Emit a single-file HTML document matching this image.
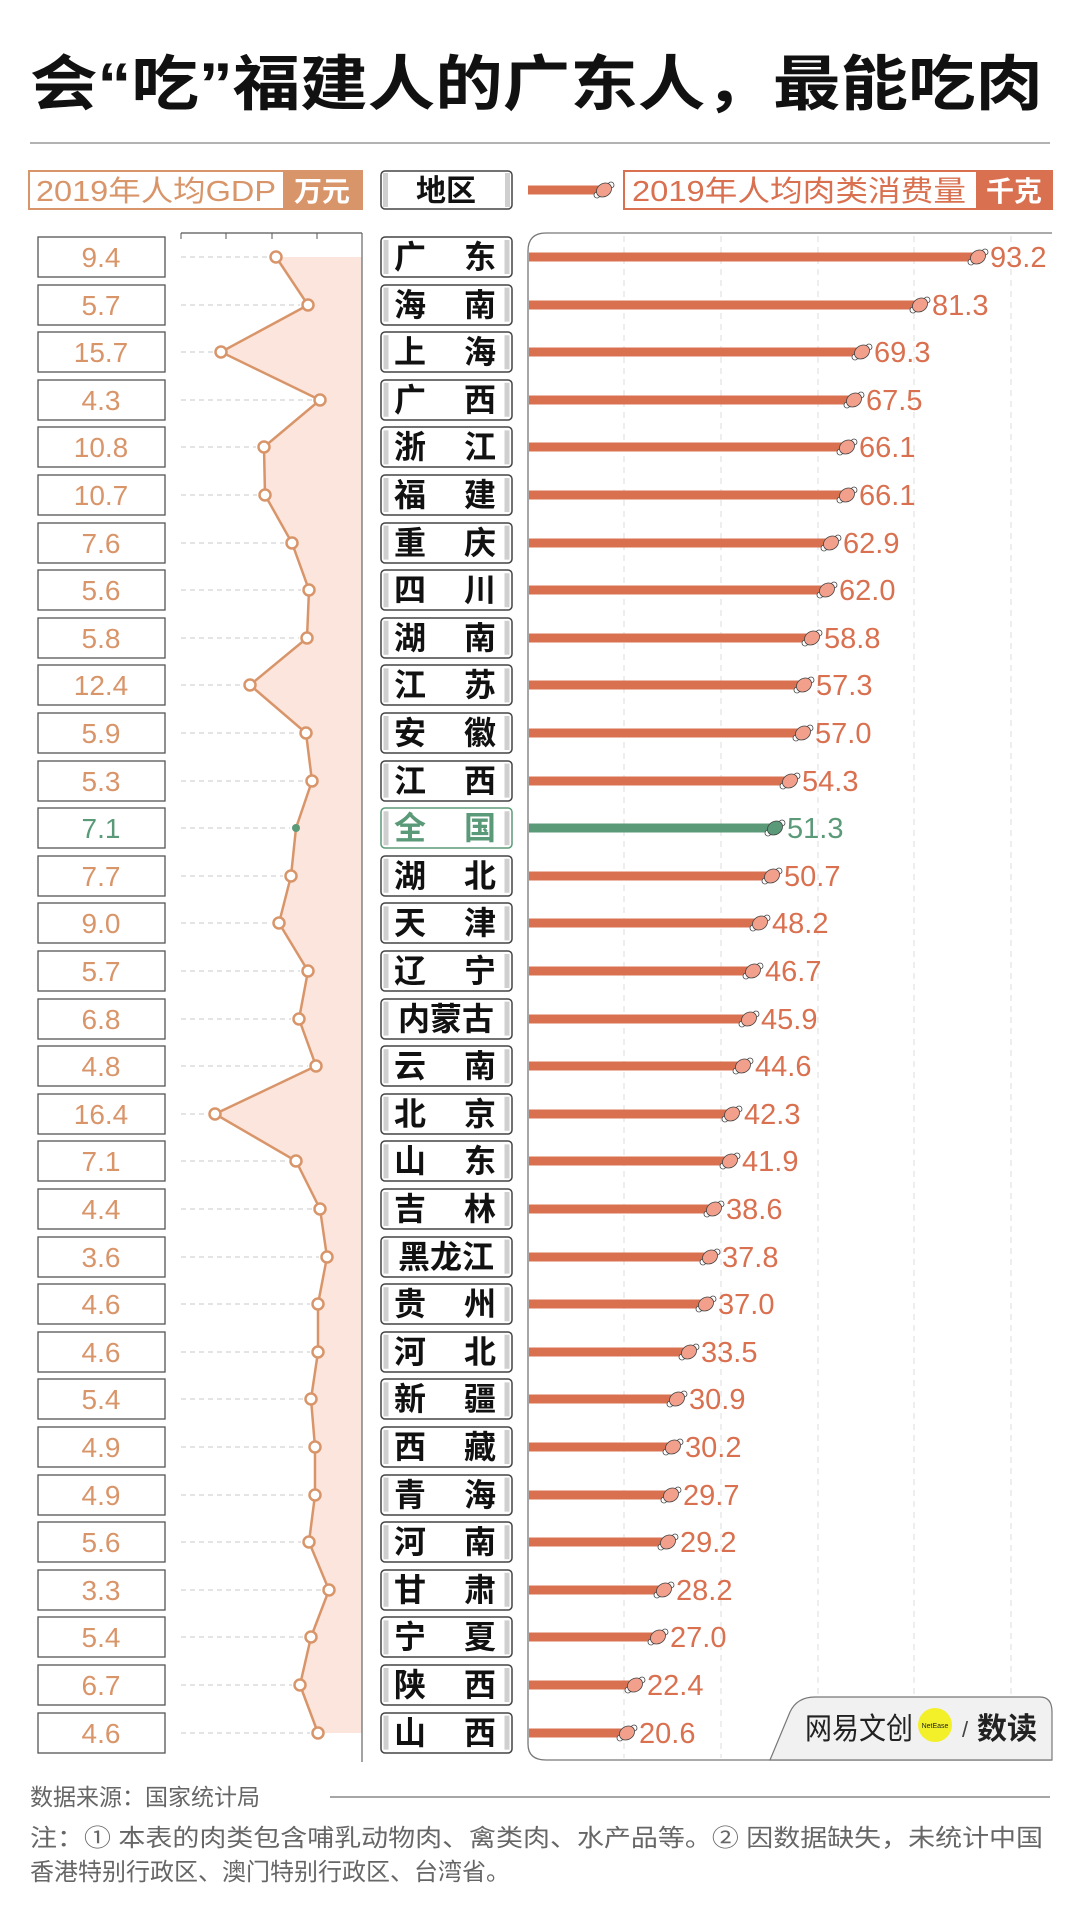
<!DOCTYPE html>
<html><head><meta charset="utf-8"><style>
html,body{margin:0;padding:0;background:#fff;}
svg{display:block;font-family:"Liberation Sans","Noto Sans CJK SC",sans-serif;}
.vb{fill:#fff;stroke:#555;stroke-width:1.3}
.vt{fill:#d9956a;font-size:28px;text-anchor:middle}
.rb{fill:#fff;stroke:#444;stroke-width:1.5}
.rc{fill:#cfcfcf}
.rt{fill:#111;font-size:32px;font-weight:bold;text-anchor:middle}
.dl{stroke:#c8c8c8;stroke-width:1;stroke-dasharray:5 4}
.gp{fill:#fff;stroke:#d9956a;stroke-width:2.5}
.bar{stroke:#d9704f;stroke-width:9}
.mt{fill:#d9704f;font-size:29px}
.gl{stroke:#ddd;stroke-width:1;stroke-dasharray:6 5}
</style></head><body>
<svg width="1080" height="1905" viewBox="0 0 1080 1905" xmlns="http://www.w3.org/2000/svg">
<defs>
<g id="m"><circle cx="-7" cy="5" r="3" fill="#fff" stroke="#444" stroke-width="0.8"/><circle cx="7" cy="-5" r="3" fill="#fff" stroke="#444" stroke-width="0.8"/><ellipse cx="0" cy="0" rx="8" ry="6.5" transform="rotate(-35)" fill="#f2a08c" stroke="#444" stroke-width="0.8"/></g>
<g id="mg"><circle cx="-7" cy="5" r="3" fill="#fff" stroke="#444" stroke-width="0.8"/><circle cx="7" cy="-5" r="3" fill="#fff" stroke="#444" stroke-width="0.8"/><ellipse cx="0" cy="0" rx="8" ry="6.5" transform="rotate(-35)" fill="#5b9a78" stroke="#444" stroke-width="0.8"/></g>
</defs>
<text x="30" y="105" font-size="60" font-weight="bold" fill="#111" textLength="1013" lengthAdjust="spacingAndGlyphs">会“吃”福建人的广东人，最能吃肉</text>
<line x1="30" y1="143" x2="1050" y2="143" stroke="#999" stroke-width="1.5"/>

<!-- headers -->
<rect x="29" y="171" width="333" height="38" fill="#fff" stroke="#d9956a" stroke-width="2"/>
<rect x="283" y="171" width="79" height="38" fill="#d9956a"/>
<text x="36" y="201" font-size="29" fill="#d9956a" textLength="240" lengthAdjust="spacingAndGlyphs">2019年人均GDP</text>
<text x="322" y="201" font-size="28" fill="#fff" font-weight="bold" text-anchor="middle">万元</text>
<rect x="381" y="171" width="131" height="38" rx="4" class="rb"/><rect x="383" y="173" width="5" height="34" class="rc"/><rect x="505" y="173" width="5" height="34" class="rc"/>
<text x="446" y="201" font-size="30" font-weight="bold" fill="#111" text-anchor="middle">地区</text>
<line x1="528" y1="190" x2="600" y2="190" stroke="#d9704f" stroke-width="9"/>
<use href="#m" x="604" y="190"/>
<rect x="624" y="171" width="428" height="38" fill="#fff" stroke="#d9704f" stroke-width="2"/>
<rect x="976" y="171" width="76" height="38" fill="#d9704f"/>
<text x="632" y="201" font-size="29" fill="#d9704f" textLength="334" lengthAdjust="spacingAndGlyphs">2019年人均肉类消费量</text>
<text x="1014" y="201" font-size="28" fill="#fff" font-weight="bold" text-anchor="middle">千克</text>

<!-- GDP chart frame -->
<polygon fill="#fce5dc" points="362,257 276,257 308,305 221,352 320,400 264,447 265,495 292,543 309,590 307,638 250,685 306,733 312,781 296,828 291,876 279,923 308,971 299,1019 316,1066 215,1114 296,1161 320,1209 327,1257 318,1304 318,1352 311,1399 315,1447 315,1495 309,1542 329,1590 311,1637 300,1685 318,1733 362,1733"/>
<line x1="181" y1="233" x2="362" y2="233" stroke="#555" stroke-width="1.2"/>
<line x1="181" y1="233" x2="181" y2="239" stroke="#555"/><line x1="226" y1="233" x2="226" y2="239" stroke="#555"/><line x1="272" y1="233" x2="272" y2="239" stroke="#555"/><line x1="317" y1="233" x2="317" y2="239" stroke="#555"/>
<line x1="362" y1="233" x2="362" y2="1762" stroke="#666" stroke-width="1.2"/>
<g class="dl">
<line x1="181" y1="257" x2="268" y2="257"/><line x1="181" y1="305" x2="300" y2="305"/><line x1="181" y1="352" x2="213" y2="352"/><line x1="181" y1="400" x2="312" y2="400"/><line x1="181" y1="447" x2="256" y2="447"/><line x1="181" y1="495" x2="257" y2="495"/><line x1="181" y1="543" x2="284" y2="543"/><line x1="181" y1="590" x2="301" y2="590"/><line x1="181" y1="638" x2="299" y2="638"/><line x1="181" y1="685" x2="242" y2="685"/><line x1="181" y1="733" x2="298" y2="733"/><line x1="181" y1="781" x2="304" y2="781"/><line x1="181" y1="828" x2="290" y2="828"/><line x1="181" y1="876" x2="283" y2="876"/><line x1="181" y1="923" x2="271" y2="923"/><line x1="181" y1="971" x2="300" y2="971"/><line x1="181" y1="1019" x2="291" y2="1019"/><line x1="181" y1="1066" x2="308" y2="1066"/><line x1="181" y1="1114" x2="207" y2="1114"/><line x1="181" y1="1161" x2="288" y2="1161"/><line x1="181" y1="1209" x2="312" y2="1209"/><line x1="181" y1="1257" x2="319" y2="1257"/><line x1="181" y1="1304" x2="310" y2="1304"/><line x1="181" y1="1352" x2="310" y2="1352"/><line x1="181" y1="1399" x2="303" y2="1399"/><line x1="181" y1="1447" x2="307" y2="1447"/><line x1="181" y1="1495" x2="307" y2="1495"/><line x1="181" y1="1542" x2="301" y2="1542"/><line x1="181" y1="1590" x2="321" y2="1590"/><line x1="181" y1="1637" x2="303" y2="1637"/><line x1="181" y1="1685" x2="292" y2="1685"/><line x1="181" y1="1733" x2="310" y2="1733"/>
</g>
<polyline fill="none" stroke="#d9956a" stroke-width="2.5" points="276,257 308,305 221,352 320,400 264,447 265,495 292,543 309,590 307,638 250,685 306,733 312,781 296,828 291,876 279,923 308,971 299,1019 316,1066 215,1114 296,1161 320,1209 327,1257 318,1304 318,1352 311,1399 315,1447 315,1495 309,1542 329,1590 311,1637 300,1685 318,1733"/>
<g class="gp">
<circle cx="276" cy="257" r="5.5"/><circle cx="308" cy="305" r="5.5"/><circle cx="221" cy="352" r="5.5"/><circle cx="320" cy="400" r="5.5"/><circle cx="264" cy="447" r="5.5"/><circle cx="265" cy="495" r="5.5"/><circle cx="292" cy="543" r="5.5"/><circle cx="309" cy="590" r="5.5"/><circle cx="307" cy="638" r="5.5"/><circle cx="250" cy="685" r="5.5"/><circle cx="306" cy="733" r="5.5"/><circle cx="312" cy="781" r="5.5"/><circle cx="291" cy="876" r="5.5"/><circle cx="279" cy="923" r="5.5"/><circle cx="308" cy="971" r="5.5"/><circle cx="299" cy="1019" r="5.5"/><circle cx="316" cy="1066" r="5.5"/><circle cx="215" cy="1114" r="5.5"/><circle cx="296" cy="1161" r="5.5"/><circle cx="320" cy="1209" r="5.5"/><circle cx="327" cy="1257" r="5.5"/><circle cx="318" cy="1304" r="5.5"/><circle cx="318" cy="1352" r="5.5"/><circle cx="311" cy="1399" r="5.5"/><circle cx="315" cy="1447" r="5.5"/><circle cx="315" cy="1495" r="5.5"/><circle cx="309" cy="1542" r="5.5"/><circle cx="329" cy="1590" r="5.5"/><circle cx="311" cy="1637" r="5.5"/><circle cx="300" cy="1685" r="5.5"/><circle cx="318" cy="1733" r="5.5"/>
</g>
<circle cx="296" cy="828" r="4" fill="#5b9a78"/>

<!-- right panel -->
<path d="M1052,233 L546,233 Q528,233 528,251 L528,1744 Q528,1760 546,1760 L1052,1760" fill="none" stroke="#777" stroke-width="1.3"/>
<g class="gl"><line x1="624" y1="236" x2="624" y2="1758"/><line x1="721" y1="236" x2="721" y2="1758"/><line x1="818" y1="236" x2="818" y2="1758"/><line x1="914" y1="236" x2="914" y2="1758"/><line x1="1011" y1="236" x2="1011" y2="1758"/></g>
<path d="M770,1760 L790,1712 Q797,1697 815,1697 L1040,1697 Q1052,1697 1052,1712 L1052,1760 Z" fill="#f1f1f1" stroke="#777" stroke-width="1.2"/>
<circle cx="935" cy="1725" r="17" fill="#f3f029"/>
<text x="805" y="1739" font-size="30" fill="#222" textLength="108" lengthAdjust="spacingAndGlyphs">网易文创</text>
<text x="935" y="1728" font-size="7" fill="#222" text-anchor="middle">NetEase</text>
<text x="962" y="1737" font-size="22" fill="#444">/</text>
<text x="977" y="1739" font-size="30" font-weight="bold" fill="#222">数读</text>

<g class="bar">
<line x1="529" y1="257" x2="978" y2="257"/><line x1="529" y1="305" x2="920" y2="305"/><line x1="529" y1="352" x2="862" y2="352"/><line x1="529" y1="400" x2="854" y2="400"/><line x1="529" y1="447" x2="847" y2="447"/><line x1="529" y1="495" x2="847" y2="495"/><line x1="529" y1="543" x2="831" y2="543"/><line x1="529" y1="590" x2="827" y2="590"/><line x1="529" y1="638" x2="812" y2="638"/><line x1="529" y1="685" x2="804" y2="685"/><line x1="529" y1="733" x2="803" y2="733"/><line x1="529" y1="781" x2="790" y2="781"/><line x1="529" y1="876" x2="772" y2="876"/><line x1="529" y1="923" x2="760" y2="923"/><line x1="529" y1="971" x2="753" y2="971"/><line x1="529" y1="1019" x2="749" y2="1019"/><line x1="529" y1="1066" x2="743" y2="1066"/><line x1="529" y1="1114" x2="732" y2="1114"/><line x1="529" y1="1161" x2="730" y2="1161"/><line x1="529" y1="1209" x2="714" y2="1209"/><line x1="529" y1="1257" x2="710" y2="1257"/><line x1="529" y1="1304" x2="706" y2="1304"/><line x1="529" y1="1352" x2="689" y2="1352"/><line x1="529" y1="1399" x2="677" y2="1399"/><line x1="529" y1="1447" x2="673" y2="1447"/><line x1="529" y1="1495" x2="671" y2="1495"/><line x1="529" y1="1542" x2="668" y2="1542"/><line x1="529" y1="1590" x2="664" y2="1590"/><line x1="529" y1="1637" x2="658" y2="1637"/><line x1="529" y1="1685" x2="635" y2="1685"/><line x1="529" y1="1733" x2="627" y2="1733"/>
</g>
<line x1="529" y1="828" x2="775" y2="828" stroke="#5b9a78" stroke-width="9"/>
<use href="#m" x="978" y="257"/><use href="#m" x="920" y="305"/><use href="#m" x="862" y="352"/><use href="#m" x="854" y="400"/><use href="#m" x="847" y="447"/><use href="#m" x="847" y="495"/><use href="#m" x="831" y="543"/><use href="#m" x="827" y="590"/><use href="#m" x="812" y="638"/><use href="#m" x="804" y="685"/><use href="#m" x="803" y="733"/><use href="#m" x="790" y="781"/><use href="#mg" x="775" y="828"/><use href="#m" x="772" y="876"/><use href="#m" x="760" y="923"/><use href="#m" x="753" y="971"/><use href="#m" x="749" y="1019"/><use href="#m" x="743" y="1066"/><use href="#m" x="732" y="1114"/><use href="#m" x="730" y="1161"/><use href="#m" x="714" y="1209"/><use href="#m" x="710" y="1257"/><use href="#m" x="706" y="1304"/><use href="#m" x="689" y="1352"/><use href="#m" x="677" y="1399"/><use href="#m" x="673" y="1447"/><use href="#m" x="671" y="1495"/><use href="#m" x="668" y="1542"/><use href="#m" x="664" y="1590"/><use href="#m" x="658" y="1637"/><use href="#m" x="635" y="1685"/><use href="#m" x="627" y="1733"/>
<g class="mt">
<text x="990" y="267">93.2</text><text x="932" y="315">81.3</text><text x="874" y="362">69.3</text><text x="866" y="410">67.5</text><text x="859" y="457">66.1</text><text x="859" y="505">66.1</text><text x="843" y="553">62.9</text><text x="839" y="600">62.0</text><text x="824" y="648">58.8</text><text x="816" y="695">57.3</text><text x="815" y="743">57.0</text><text x="802" y="791">54.3</text><text x="787" y="838" fill="#5b9a78">51.3</text><text x="784" y="886">50.7</text><text x="772" y="933">48.2</text><text x="765" y="981">46.7</text><text x="761" y="1029">45.9</text><text x="755" y="1076">44.6</text><text x="744" y="1124">42.3</text><text x="742" y="1171">41.9</text><text x="726" y="1219">38.6</text><text x="722" y="1267">37.8</text><text x="718" y="1314">37.0</text><text x="701" y="1362">33.5</text><text x="689" y="1409">30.9</text><text x="685" y="1457">30.2</text><text x="683" y="1505">29.7</text><text x="680" y="1552">29.2</text><text x="676" y="1600">28.2</text><text x="670" y="1647">27.0</text><text x="647" y="1695">22.4</text><text x="639" y="1743">20.6</text>
</g>

<!-- value boxes -->
<g class="vb">
<rect x="38" y="237" width="127" height="40"/><rect x="38" y="285" width="127" height="40"/><rect x="38" y="332" width="127" height="40"/><rect x="38" y="380" width="127" height="40"/><rect x="38" y="427" width="127" height="40"/><rect x="38" y="475" width="127" height="40"/><rect x="38" y="523" width="127" height="40"/><rect x="38" y="570" width="127" height="40"/><rect x="38" y="618" width="127" height="40"/><rect x="38" y="665" width="127" height="40"/><rect x="38" y="713" width="127" height="40"/><rect x="38" y="761" width="127" height="40"/><rect x="38" y="808" width="127" height="40"/><rect x="38" y="856" width="127" height="40"/><rect x="38" y="903" width="127" height="40"/><rect x="38" y="951" width="127" height="40"/><rect x="38" y="999" width="127" height="40"/><rect x="38" y="1046" width="127" height="40"/><rect x="38" y="1094" width="127" height="40"/><rect x="38" y="1141" width="127" height="40"/><rect x="38" y="1189" width="127" height="40"/><rect x="38" y="1237" width="127" height="40"/><rect x="38" y="1284" width="127" height="40"/><rect x="38" y="1332" width="127" height="40"/><rect x="38" y="1379" width="127" height="40"/><rect x="38" y="1427" width="127" height="40"/><rect x="38" y="1475" width="127" height="40"/><rect x="38" y="1522" width="127" height="40"/><rect x="38" y="1570" width="127" height="40"/><rect x="38" y="1617" width="127" height="40"/><rect x="38" y="1665" width="127" height="40"/><rect x="38" y="1713" width="127" height="40"/>
</g>
<g class="vt">
<text x="101" y="267">9.4</text><text x="101" y="315">5.7</text><text x="101" y="362">15.7</text><text x="101" y="410">4.3</text><text x="101" y="457">10.8</text><text x="101" y="505">10.7</text><text x="101" y="553">7.6</text><text x="101" y="600">5.6</text><text x="101" y="648">5.8</text><text x="101" y="695">12.4</text><text x="101" y="743">5.9</text><text x="101" y="791">5.3</text><text x="101" y="838" fill="#5b9a78">7.1</text><text x="101" y="886">7.7</text><text x="101" y="933">9.0</text><text x="101" y="981">5.7</text><text x="101" y="1029">6.8</text><text x="101" y="1076">4.8</text><text x="101" y="1124">16.4</text><text x="101" y="1171">7.1</text><text x="101" y="1219">4.4</text><text x="101" y="1267">3.6</text><text x="101" y="1314">4.6</text><text x="101" y="1362">4.6</text><text x="101" y="1409">5.4</text><text x="101" y="1457">4.9</text><text x="101" y="1505">4.9</text><text x="101" y="1552">5.6</text><text x="101" y="1600">3.3</text><text x="101" y="1647">5.4</text><text x="101" y="1695">6.7</text><text x="101" y="1743">4.6</text>
</g>

<!-- region boxes -->
<g class="rb"><rect x="381" y="237" width="131" height="40" rx="4"/><rect x="381" y="285" width="131" height="40" rx="4"/><rect x="381" y="332" width="131" height="40" rx="4"/><rect x="381" y="380" width="131" height="40" rx="4"/><rect x="381" y="427" width="131" height="40" rx="4"/><rect x="381" y="475" width="131" height="40" rx="4"/><rect x="381" y="523" width="131" height="40" rx="4"/><rect x="381" y="570" width="131" height="40" rx="4"/><rect x="381" y="618" width="131" height="40" rx="4"/><rect x="381" y="665" width="131" height="40" rx="4"/><rect x="381" y="713" width="131" height="40" rx="4"/><rect x="381" y="761" width="131" height="40" rx="4"/><rect x="381" y="808" width="131" height="40" rx="4" style="stroke:#5b9a78"/><rect x="381" y="856" width="131" height="40" rx="4"/><rect x="381" y="903" width="131" height="40" rx="4"/><rect x="381" y="951" width="131" height="40" rx="4"/><rect x="381" y="999" width="131" height="40" rx="4"/><rect x="381" y="1046" width="131" height="40" rx="4"/><rect x="381" y="1094" width="131" height="40" rx="4"/><rect x="381" y="1141" width="131" height="40" rx="4"/><rect x="381" y="1189" width="131" height="40" rx="4"/><rect x="381" y="1237" width="131" height="40" rx="4"/><rect x="381" y="1284" width="131" height="40" rx="4"/><rect x="381" y="1332" width="131" height="40" rx="4"/><rect x="381" y="1379" width="131" height="40" rx="4"/><rect x="381" y="1427" width="131" height="40" rx="4"/><rect x="381" y="1475" width="131" height="40" rx="4"/><rect x="381" y="1522" width="131" height="40" rx="4"/><rect x="381" y="1570" width="131" height="40" rx="4"/><rect x="381" y="1617" width="131" height="40" rx="4"/><rect x="381" y="1665" width="131" height="40" rx="4"/><rect x="381" y="1713" width="131" height="40" rx="4"/></g>
<line x1="386" y1="240" x2="386" y2="1752" stroke="#cfcfcf" stroke-width="5" stroke-dasharray="34 13.6"/>
<line x1="507" y1="240" x2="507" y2="1752" stroke="#cfcfcf" stroke-width="5" stroke-dasharray="34 13.6"/>
<g class="rt">
<text x="410" y="268">广</text><text x="480" y="268">东</text>
<text x="410" y="316">海</text><text x="480" y="316">南</text>
<text x="410" y="363">上</text><text x="480" y="363">海</text>
<text x="410" y="411">广</text><text x="480" y="411">西</text>
<text x="410" y="458">浙</text><text x="480" y="458">江</text>
<text x="410" y="506">福</text><text x="480" y="506">建</text>
<text x="410" y="554">重</text><text x="480" y="554">庆</text>
<text x="410" y="601">四</text><text x="480" y="601">川</text>
<text x="410" y="649">湖</text><text x="480" y="649">南</text>
<text x="410" y="696">江</text><text x="480" y="696">苏</text>
<text x="410" y="744">安</text><text x="480" y="744">徽</text>
<text x="410" y="792">江</text><text x="480" y="792">西</text>
<text x="410" y="839" fill="#5b9a78">全</text><text x="480" y="839" fill="#5b9a78">国</text>
<text x="410" y="887">湖</text><text x="480" y="887">北</text>
<text x="410" y="934">天</text><text x="480" y="934">津</text>
<text x="410" y="982">辽</text><text x="480" y="982">宁</text>
<text x="446" y="1030">内蒙古</text>
<text x="410" y="1077">云</text><text x="480" y="1077">南</text>
<text x="410" y="1125">北</text><text x="480" y="1125">京</text>
<text x="410" y="1172">山</text><text x="480" y="1172">东</text>
<text x="410" y="1220">吉</text><text x="480" y="1220">林</text>
<text x="446" y="1268">黑龙江</text>
<text x="410" y="1315">贵</text><text x="480" y="1315">州</text>
<text x="410" y="1363">河</text><text x="480" y="1363">北</text>
<text x="410" y="1410">新</text><text x="480" y="1410">疆</text>
<text x="410" y="1458">西</text><text x="480" y="1458">藏</text>
<text x="410" y="1506">青</text><text x="480" y="1506">海</text>
<text x="410" y="1553">河</text><text x="480" y="1553">南</text>
<text x="410" y="1601">甘</text><text x="480" y="1601">肃</text>
<text x="410" y="1648">宁</text><text x="480" y="1648">夏</text>
<text x="410" y="1696">陕</text><text x="480" y="1696">西</text>
<text x="410" y="1744">山</text><text x="480" y="1744">西</text>
</g>

<!-- footer -->
<text x="30" y="1805" font-size="23" fill="#666">数据来源：国家统计局</text>
<line x1="330" y1="1797" x2="1050" y2="1797" stroke="#888" stroke-width="1.5"/>
<text x="30" y="1846" font-size="24" fill="#666" textLength="1013" lengthAdjust="spacingAndGlyphs">注：① 本表的肉类包含哺乳动物肉、禽类肉、水产品等。② 因数据缺失，未统计中国</text>
<text x="30" y="1880" font-size="24" fill="#666">香港特别行政区、澳门特别行政区、台湾省。</text>
</svg>
</body></html>
